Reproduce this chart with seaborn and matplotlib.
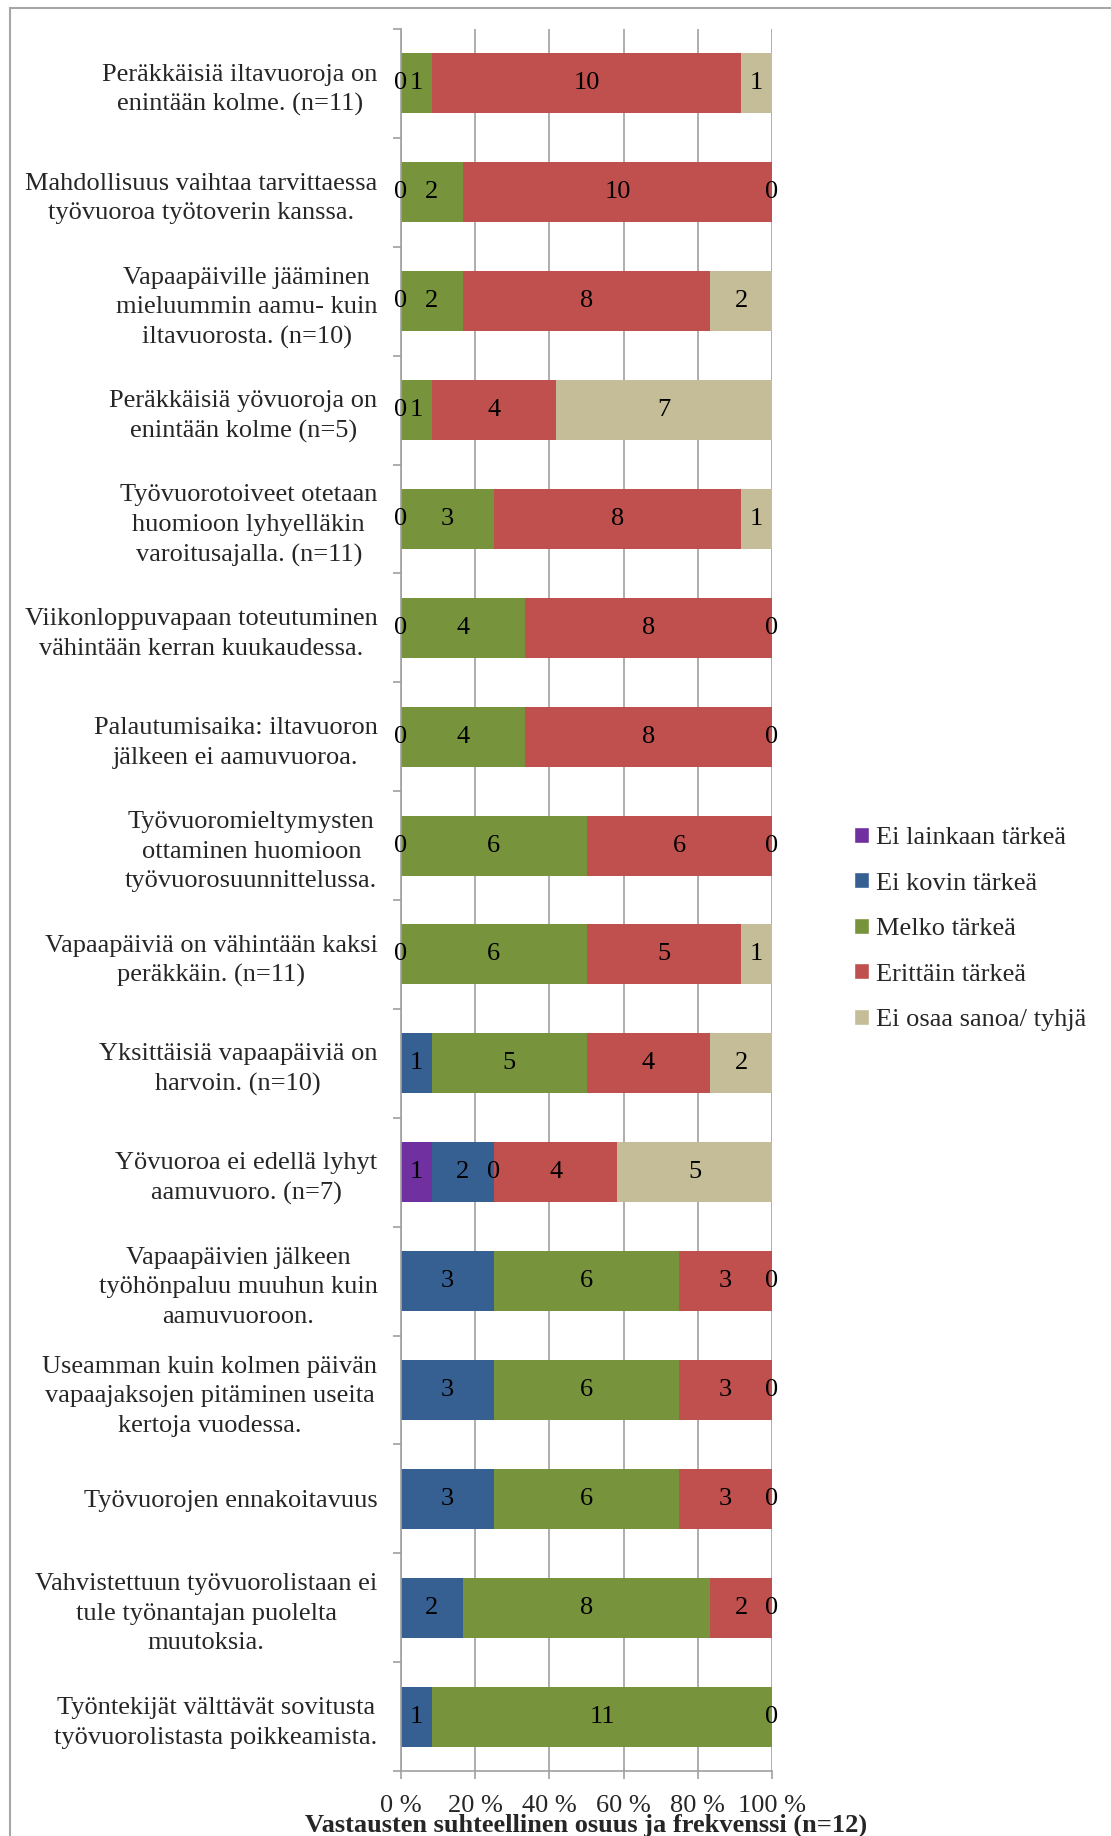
import numpy as np
import pandas as pd
import matplotlib
matplotlib.use("Agg")
import matplotlib.pyplot as plt
import seaborn as sns
from matplotlib.patches import Rectangle, Patch

nan = np.nan

categories = [
    "Peräkkäisiä iltavuoroja on\nenintään kolme. (n=11)",
    "Mahdollisuus vaihtaa tarvittaessa\ntyövuoroa työtoverin kanssa.",
    "Vapaapäiville jääminen\nmieluummin aamu- kuin\niltavuorosta. (n=10)",
    "Peräkkäisiä yövuoroja on\nenintään kolme (n=5)",
    "Työvuorotoiveet otetaan\nhuomioon lyhyelläkin\nvaroitusajalla. (n=11)",
    "Viikonloppuvapaan toteutuminen\nvähintään kerran kuukaudessa.",
    "Palautumisaika: iltavuoron\njälkeen ei aamuvuoroa.",
    "Työvuoromieltymysten\nottaminen huomioon\ntyövuorosuunnittelussa.",
    "Vapaapäiviä on vähintään kaksi\nperäkkäin. (n=11)",
    "Yksittäisiä vapaapäiviä on\nharvoin. (n=10)",
    "Yövuoroa ei edellä lyhyt\naamuvuoro. (n=7)",
    "Vapaapäivien jälkeen\ntyöhönpaluu muuhun kuin\naamuvuoroon.",
    "Useamman kuin kolmen päivän\nvapaajaksojen pitäminen useita\nkertoja vuodessa.",
    "Työvuorojen ennakoitavuus",
    "Vahvistettuun työvuorolistaan ei\ntule työnantajan puolelta\nmuutoksia.",
    "Työntekijät välttävät sovitusta\ntyövuorolistasta poikkeamista.",
]

series_names = ["Ei lainkaan tärkeä", "Ei kovin tärkeä", "Melko tärkeä",
                "Erittäin tärkeä", "Ei osaa sanoa/ tyhjä"]

ei_lainkaan = [nan, nan, nan, nan, nan, nan, nan, nan, nan, nan, 1, nan, nan, nan, nan, nan]
ei_kovin = [0, 0, 0, 0, 0, 0, 0, 0, 0, 1, 2, 3, 3, 3, 2, 1]
melko = [1, 2, 2, 1, 3, 4, 4, 6, 6, 5, 0, 6, 6, 6, 8, 11]
erittain = [10, 10, 8, 4, 8, 8, 8, 6, 5, 4, 4, 3, 3, 3, 2, nan]
ei_osaa = [1, 0, 2, 7, 1, 0, 0, 0, 1, 2, 5, 0, 0, 0, 0, 0]

colors = ["#7030A0", "#376092", "#77933C", "#C0504D", "#C4BD97"]

xticks = [0, 20, 40, 60, 80, 100]
xticklabels = ["0 %", "20 %", "40 %", "60 %", "80 %", "100 %"]
xlabel = "Vastausten suhteellinen osuus ja frekvenssi (n=12)"

sns.set_style("white")
plt.rcParams["font.family"] = ["Liberation Serif", "DejaVu Serif"]
FS = 19

fig = plt.figure(figsize=(11.11, 18.36), dpi=100)
ax = fig.add_axes([401 / 1111, 65 / 1836, 371 / 1111, 1742 / 1836])

counts = np.array([ei_lainkaan, ei_kovin, melko, erittain, ei_osaa], dtype=float)
filled = np.nan_to_num(counts)
totals = filled.sum(axis=0)
pct = filled / totals * 100
cum = np.cumsum(pct, axis=0)

for i in reversed(range(len(series_names))):
    df = pd.DataFrame({"cat": categories, "val": cum[i]})
    sns.barplot(data=df, y="cat", x="val", order=categories, orient="y",
                color=colors[i], saturation=1, width=0.55, errorbar=None,
                ax=ax, linewidth=0)

for i in range(len(series_names)):
    for j in range(len(categories)):
        if not np.isnan(counts[i, j]):
            xpos = cum[i, j] - pct[i, j] / 2
            ax.text(xpos, j, f"{int(counts[i, j])}", ha="center", va="center",
                    fontsize=FS, color="black")

ax.set_xlim(0, 100)
ax.set_ylim(len(categories) - 0.5, -0.5)
ax.set_xticks(xticks)
ax.set_xticklabels(xticklabels, fontsize=FS)
ax.set_yticks(range(len(categories)))
ax.set_yticklabels(categories, fontsize=FS, linespacing=1.44)
for t in ax.get_yticklabels():
    t.set_multialignment("center")
ax.set_yticks(np.arange(-0.5, len(categories), 1), minor=True)
ax.set_ylabel("")
ax.set_xlabel(xlabel, fontsize=FS, fontweight="bold", labelpad=-2)

ax.xaxis.grid(True, color="#A0A0A0", linewidth=1.2)
ax.yaxis.grid(False)
ax.set_axisbelow(True)
for s in ["top", "right"]:
    ax.spines[s].set_visible(False)
for s in ["left", "bottom"]:
    ax.spines[s].set_color("#A0A0A0")
    ax.spines[s].set_linewidth(1.2)

ax.tick_params(axis="y", which="major", length=0, pad=17)
ax.tick_params(axis="y", which="minor", left=True, length=6, width=1.2, color="#A0A0A0")
ax.tick_params(axis="x", which="major", bottom=True, length=6, width=1.2,
               color="#A0A0A0", pad=11)

handles = [Patch(facecolor=c, label=n) for c, n in zip(colors, series_names)]
fig.legend(handles=handles, loc="center left", bbox_to_anchor=(854 / 1111, 1 - 929 / 1836),
           frameon=False, fontsize=FS, handlelength=0.55, handleheight=0.55,
           handletextpad=0.3, labelspacing=0.88, borderpad=0, borderaxespad=0)

fig.add_artist(Rectangle((10 / 1111, -0.05), 1.2, (1836 - 8) / 1836 + 0.05,
                         transform=fig.transFigure, fill=False, ec="#A6A6A6",
                         lw=1.5, clip_on=False))

fig.savefig("out.png", dpi=100)
